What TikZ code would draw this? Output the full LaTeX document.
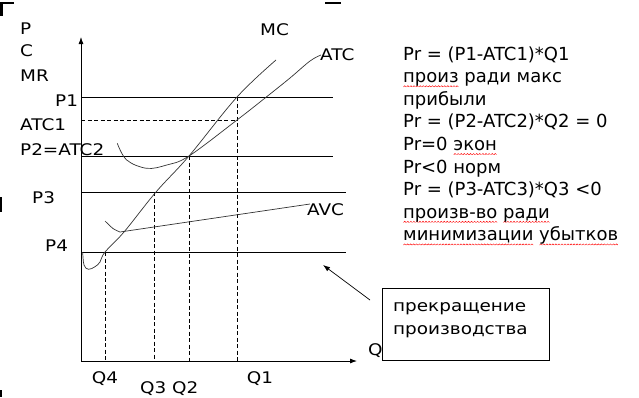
\documentclass[tikz,border=0pt]{standalone}
\usepackage{fontspec}
\setmainfont{DejaVu Sans}[FakeStretch=1.15]
\newfontfamily\notefont{DejaVu Sans}
\usetikzlibrary{arrows.meta}
% red spell-check wave under a word
\newsavebox{\wavebox}
\newcommand{\spellmark}[1]{\leavevmode\setbox0\hbox{#1}%
  \rlap{\raisebox{-4.5pt}{\hbox to \wd0{\xleaders\copy\wavebox\hfill}}}\box0\relax}

\begin{document}
\sbox{\wavebox}{\begin{pgfpicture}
  \pgfsetlinewidth{0.45pt}\pgfsetstrokecolor{red}
  \pgfpathmoveto{\pgfpoint{0pt}{0pt}}\pgfpathlineto{\pgfpoint{1.25pt}{1.2pt}}
  \pgfpathlineto{\pgfpoint{2.5pt}{0pt}}\pgfusepath{stroke}\end{pgfpicture}}
\begin{tikzpicture}[x=1pt,y=-1pt,>={Latex[length=7pt,width=5pt]},
    font=\fontsize{16}{22.6}\selectfont,
    level/.style={line width=0.8pt},
    guide/.style={dash pattern=on 4pt off 2.5pt,line width=0.7pt},
    curve/.style={line width=0.7pt,black!80},
    lbl/.style={inner sep=0pt,anchor=base west}]
  \useasboundingbox (0,0) rectangle (639,397);
  % selection handles
  \fill (0,1.5) rectangle (14,4); \fill (0,1.5) rectangle (2.5,16);
  \fill (325,1.5) rectangle (341,4);
  \fill (0,197) rectangle (2,212);
  \fill (0,390) rectangle (2,397);
  % axes
  \coordinate (O) at (81,361);
  \coordinate (ytop) at (81,37);
  \coordinate (xend) at (357,361);
  \draw[->,line width=0.8pt] (O) -- (ytop);
  \draw[->,line width=0.8pt] (O) -- (xend);
  % equilibrium points
  \coordinate (E1) at (237,97);
  \coordinate (A1) at (237,120);
  \coordinate (E2) at (189,156);
  \coordinate (E3) at (154,192);
  \coordinate (E4) at (105,252);
  \coordinate (P1end) at (333,97);
  \coordinate (P2end) at (333,156);
  \coordinate (P3end) at (346,192);
  \coordinate (P4end) at (346,252);
  \draw[level] (E1 -| O) -- (P1end);
  \draw[level] (E2 -| O) -- (P2end);
  \draw[level] (E3 -| O) -- (P3end);
  \draw[level] (E4 -| O) -- (P4end);
  \draw[guide] (A1 -| O) -- (A1);
  \draw[guide] (E1) -- (E1 |- O);
  \draw[guide] (E2) -- (E2 |- O);
  \draw[guide] (E3) -- (E3 |- O);
  \draw[guide] (E4) -- (E4 |- O);
  % cost curves
  \draw[curve] plot[smooth,tension=0.6] coordinates {(82.7,252) (84,265) (88.5,269.3)
    (95,266.7) (100,262) (E4) (124,232) (156,192) (E2) (E1) (276,60)};
  \draw[curve] plot[smooth,tension=0.6] coordinates {(117.3,143.3) (126.7,160) (146.7,168.3)
    (166.7,165) (E2) (A1) (266.7,96.7) (290,78) (310,61) (321,55)};
  \draw[curve] plot[smooth] coordinates {(105,221) (113,228.5) (120,232)} -- (310,204);
  % labels
  \node[lbl] (lP) at (20,34.3) {P};
  \node[lbl] (lC) at (20,56.7) {C};
  \node[lbl] (lMR) at (20,81.7) {MR};
  \node[lbl] (lP1) at (55,106) {P1};
  \node[lbl] (lATC1) at (20,130.7) {ATC1};
  \node[lbl] (lP2) at (20,155) {P2=ATC2};
  \node[lbl] (lP3) at (32,203) {P3};
  \node[lbl] (lP4) at (45,251) {P4};
  \node[lbl] (lQ4) at (91.7,383) {Q4};
  \node[lbl] (lQ3) at (140,393.5) {Q3};
  \node[lbl] (lQ2) at (172,393.5) {Q2};
  \node[lbl] (lQ1) at (246.7,383) {Q1};
  \node[lbl] (lQ) at (368,355) {Q};
  \node[lbl] (lMC) at (260,35) {MC};
  \node[lbl] (lATC) at (320,60) {ATC};
  \node[lbl] (lAVC) at (307,215) {AVC};
  % profit notes (anchored at the last baseline)
  \node[lbl,align=left,font=\notefont\fontsize{18}{22.6}\selectfont] (notes) at (403,240.8)
    {Pr = (P1-ATC1)*Q1\\
    \spellmark{произ} ради макс\\
    прибыли\\
    Pr = (P2-ATC2)*Q2 = 0\\
    Pr=0 \spellmark{экон}\\
    Pr<0 норм\\
    Pr = (P3-ATC3)*Q3 <0\\
    \spellmark{произв-во} \spellmark{ради}\\
    \spellmark{минимизации} \spellmark{убытков}};
  % shutdown box
  \node[draw,line width=0.8pt,inner sep=0pt,anchor=north west,
    minimum width=167pt,minimum height=72pt] (stop) at (382,288) {};
  \node[lbl,align=left,font=\fontsize{16}{22.3}\selectfont] (stoptext) at (393,334)
    {прекращение\\производства};
  \coordinate (tail) at (370,300);
  \coordinate (head) at (323,265);
  \draw[->,line width=0.7pt] (tail) -- (head);
\end{tikzpicture}
\end{document}
